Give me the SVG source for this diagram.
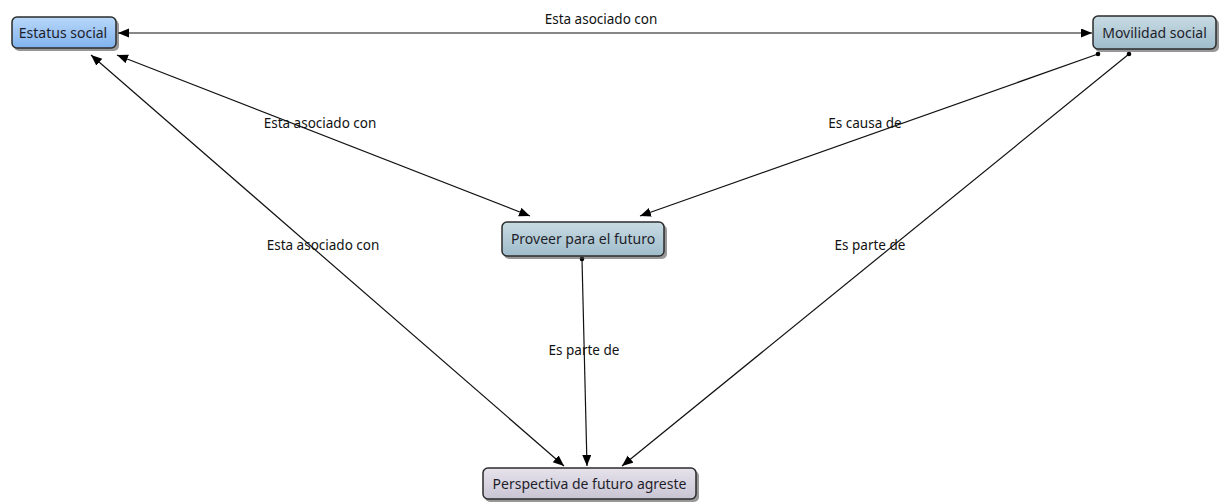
<svg xmlns="http://www.w3.org/2000/svg" width="1221" height="504" viewBox="0 0 1221 504">
<style>
.node rect.box{stroke:#2b2b2b;stroke-width:1.5}
.node rect.shadow{fill:#444;opacity:0.55}
.node text{font-family:"Noto Sans","Open Sans",sans-serif;font-size:14px;fill:#1e1e2a;text-anchor:middle}
.conn line{stroke:#111;stroke-width:1.2;fill:none}
.lbl{font-family:"Noto Sans","Open Sans",sans-serif;font-size:13.5px;fill:#111;text-anchor:middle}
</style>
<defs>
<linearGradient id="gBlue" x1="0" y1="0" x2="0" y2="1"><stop offset="0" stop-color="#b9d8fa"/><stop offset="1" stop-color="#80b2ee"/></linearGradient>
<linearGradient id="gSteel" x1="0" y1="0" x2="0" y2="1"><stop offset="0" stop-color="#c8dbe3"/><stop offset="1" stop-color="#9fbccb"/></linearGradient>
<linearGradient id="gLav" x1="0" y1="0" x2="0" y2="1"><stop offset="0" stop-color="#e6e3ec"/><stop offset="1" stop-color="#c9c4d3"/></linearGradient>
<marker id="arr" markerUnits="userSpaceOnUse" markerWidth="12" markerHeight="10" refX="11" refY="4.5" orient="auto-start-reverse"><path d="M0,0 L11,4.5 L0,9 z" fill="#000"/></marker>
<marker id="dot" markerUnits="userSpaceOnUse" markerWidth="6" markerHeight="6" refX="3" refY="3"><circle cx="3" cy="3" r="2.3" fill="#000"/></marker>
</defs>
<rect width="1221" height="504" fill="#fff"/>
<g id="connectors" class="conn">
<line x1="118" y1="33" x2="1092" y2="33" marker-start="url(#arr)" marker-end="url(#arr)"/>
<line x1="117" y1="55" x2="530" y2="216" marker-start="url(#arr)" marker-end="url(#arr)"/>
<line x1="91" y1="55" x2="564" y2="466" marker-start="url(#arr)" marker-end="url(#arr)"/>
<line x1="1098" y1="54" x2="640" y2="216" marker-start="url(#dot)" marker-end="url(#arr)"/>
<line x1="1129" y1="54" x2="622" y2="466" marker-start="url(#dot)" marker-end="url(#arr)"/>
<line x1="582" y1="259" x2="587" y2="466" marker-start="url(#dot)" marker-end="url(#arr)"/>
<text class="lbl" x="601" y="24">Esta asociado con</text>
<text class="lbl" x="320" y="128">Esta asociado con</text>
<text class="lbl" x="865" y="128">Es causa de</text>
<text class="lbl" x="323" y="250">Esta asociado con</text>
<text class="lbl" x="870" y="250">Es parte de</text>
<text class="lbl" x="584" y="355">Es parte de</text>
</g>
<g id="estatus" class="node">
<rect class="shadow" x="14" y="20" width="105" height="31" rx="5"/>
<rect class="box" x="12" y="17" width="104" height="31" rx="5" fill="url(#gBlue)"/>
<text x="63" y="37.5">Estatus social</text>
</g>
<g id="movilidad" class="node">
<rect class="shadow" x="1095" y="19" width="124" height="33" rx="5"/>
<rect class="box" x="1093" y="16" width="123" height="33" rx="5" fill="url(#gSteel)"/>
<text x="1154.5" y="37.5">Movilidad social</text>
</g>
<g id="proveer" class="node">
<rect class="shadow" x="504" y="225" width="163" height="34" rx="5"/>
<rect class="box" x="502" y="222" width="162" height="34" rx="5" fill="url(#gSteel)"/>
<text x="583" y="244">Proveer para el futuro</text>
</g>
<g id="perspectiva" class="node">
<rect class="shadow" x="485" y="471" width="214" height="31" rx="5"/>
<rect class="box" x="483" y="468" width="213" height="31" rx="5" fill="url(#gLav)"/>
<text x="589.5" y="488.5">Perspectiva de futuro agreste</text>
</g>
</svg>
